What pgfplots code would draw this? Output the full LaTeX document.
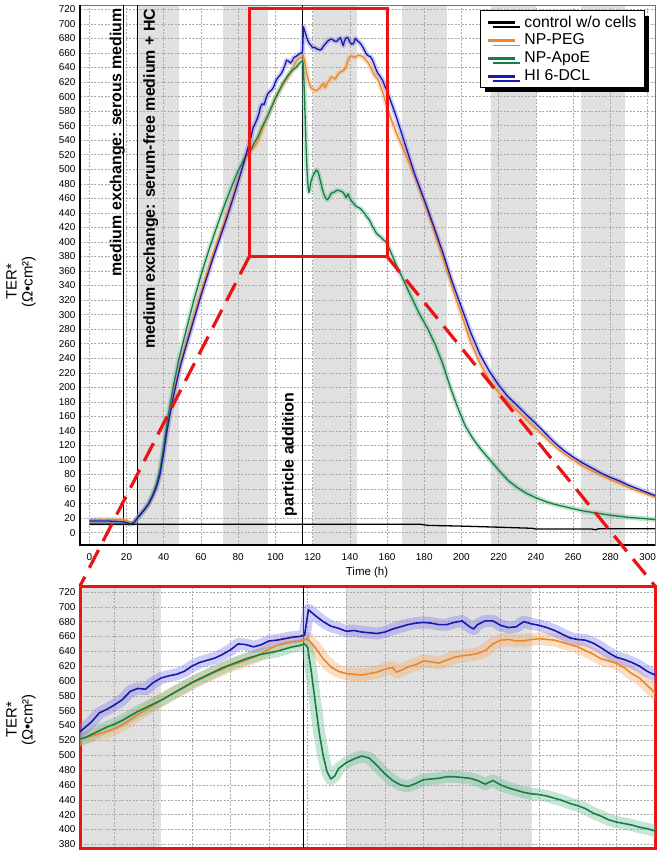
\documentclass[border=0pt]{standalone}
\usepackage{fontspec}
\setmainfont{Liberation Sans}
\usepackage{pgfplots}
\usepackage{pgfplotstable}
\pgfplotsset{compat=1.18}
\usetikzlibrary{shadows}

\definecolor{cblue}{RGB}{25,25,170}
\definecolor{corange}{RGB}{235,135,45}
\definecolor{cgreen}{RGB}{25,125,70}
\definecolor{lblue}{RGB}{130,130,235}
\definecolor{lorange}{RGB}{245,175,110}
\definecolor{lgreen}{RGB}{110,190,150}
\definecolor{band}{RGB}{224,224,224}
\definecolor{gridc}{RGB}{170,170,170}
\definecolor{cred}{RGB}{235,20,20}

\pgfplotstableread{
t v
0 11.5
26 11.5
60 11.5
100 11.5
150 11.5
178 11.5
182 10
200 9
220 7.5
238 6
240 5
270 5
272 4
274 5.5
304 5.5
}\ctrl

\pgfplotstableread{
t v
0 16
5 16
10 16
15 15.5
18 15
20 14
22 12
24 14
26 21
28 27
30 33
32 40
34 50
36 62
38 80
40 110
41.5 136
43 158
45 185
47 208
49 230
51 248
54 274
57 300
60 326
63 350
66 374
70 404
74 434
78 466
82 500
84 518
85.5 532
86 536
87 545
88 557
89 562
90 568
91 575
92 586
93 590
94 589
95 598
96 604
97 607
98 609
99 613
100 620
101 625
102 628
103 631
104 636
105 642
106 650
107 649
108 646
109 649
110 654
111 655
112 657
113 659
114 660
114.6 662
115.1 696
116 688
117 680
118 674
119 671
120 667
121 668
122 666
123 665
124 664
125 666
126 670
127 673
128 676
129 678
130 679
131 678
132 676
133 676
134 679
135 681
136 673
136.5 670
137 676
138 681
139 681
140 675
141 672
142 673
143 680
144 677
145 675
146 672
147 668
148 663
149 658
150 656
151 655
152 651
153 645
154 638
155 632
156 629
157 625
158 620
159 613
160 608
165 572
170 532
175 492
180 458
185 422
190 385
195 345
200 310
205 275
210 245
215 222
220 203
225 187
230 175
235 162
240 150
245 137
250 124
255 113
260 104
265 96
270 89
275 82
280 76
285 71
290 65
295 60
300 55
304 51
}\hi

\pgfplotstableread{
t v
0 18
5 18
10 18
15 18
18 17.5
20 17
22 14
24 14
26 20
28 26
30 32
32 40
34 50
36 63
38 82
40 113
41.5 138
43 161
45 188
47 211
49 233
51 252
54 279
57 305
60 331
63 356
66 380
70 409
74 439
78 469
82 500
84 514
85.5 521
86 523
87 526
88 529
89 532
90 536
91 541
92 548
93 555
94 561
95 568
96 574
97 580
98 586
99 591
100 597
101 602
102 607
103 612
104 616
105 621
106 624
107 628
108 632
109 637
110 643
111 648
112 651
113 653
114 654
115 657
116 645
117 630
118 619
119 613
120 610
121 609
122 608
123 610
124 612
125 616
126 618
126.5 612
127 614
128 619
129 622
130 627
131 626
132 624
133 628
134 632
135 634
136 635
137 637
138 641
139 650
140 655
141 656
142 654
143 654
144 656
145 657
146 656
147 655
148 652
149 649
150 646
151 641
152 636
153 630
154 627
155 624
156 618
157 610
158 604
159 594
160 584
165 550
170 520
175 490
180 455
185 418
190 378
195 338
200 300
205 262
210 233
215 210
220 193
225 180
230 168
235 155
240 143
245 131
250 119
255 109
260 100
265 92
270 85
275 79
280 73
285 68
290 62
295 57
300 53
304 49
}\peg

\pgfplotstableread{
t v
0 13
5 13
10 13
15 13
20 12.5
22 12
24 13
26 20
28 26
30 33
32 41
34 52
36 66
38 86
40 120
42 155
44 185
46 212
48 237
50 258
53 288
56 318
60 354
64 387
68 417
72 446
76 473
80 498
84 518
85.5 522
86 523
87 528
88 533
89 538
90 542
91 547
92 553
93 559
94 564
95 569
96 574
97 580
98 586
99 592
100 598
101 603
102 608
103 613
104 618
105 622
106 626
107 630
108 633
109 636
110 638
111 640
112 643
113 646
114 648
114.6 650
115 645
115.5 610
116 570
116.5 530
117 500
117.5 478
118 468
118.5 472
119 482
120 490
121 495
122 499
123 496
124 486
125 475
126 466
127 460
128 458
129 462
130 467
131 468
132 469
133 471
134 471
135 470
136 469
137 466
138 461
139 466
140 460
141 456
142 453
143 450
144 448
145 447
146 445
147 442
148 439
149 435
150 432
151 428
152 422
153 418
154 413
155 410
156 408
157 406
158 403
159 401
160 398
163 380
165 368
168 352
172 330
177 303
182 280
186 258
190 232
194 200
198 172
202 147
206 130
210 116
215 101
220 86
225 72
230 62
235 54
240 48
245 43
250 39
255 36
260 33
265 30
270 28
275 26
280 24
290 21
300 19
304 18
}\apoe

\begin{document}
\begin{tikzpicture}
\pgfplotsset{
  common/.style={
    scale only axis, set layers,
    grid=major,
    grid style={gridc, line width=0.5bp, dash pattern=on 2bp off 1.5bp},
    major tick length=0,
    tick label style={font=\fontsize{10}{11}\selectfont},
    /pgf/number format/assume math mode=true,
    yticklabel style={xshift=-1bp},
    xticklabel style={yshift=-5bp},
  },
}
% ---------------- top panel ----------------
\begin{axis}[common, name=top, at={(80bp,-5bp)}, anchor=north west,
  width=575bp, height=540bp,
  xmin=-5, xmax=304, ymin=-17, ymax=726,
  xtick={0,20,...,300}, ytick={0,20,...,720},
  axis line style={black!55, line width=0.6bp},
  legend style={at={(rel axis cs:0.9826,0.9907)}, anchor=north east,
    draw=black, line width=1.2bp, fill=white,
    font=\fontsize{15.8}{17}\selectfont,
    inner xsep=6bp, inner ysep=3bp, row sep=1.5bp,
    drop shadow={shadow xshift=5bp, shadow yshift=-5bp, opacity=1, fill=black},
    /tikz/column 1/.style={column sep=6bp}},
  legend cell align=left,
  legend image code/.code={\draw[#1, line width=3bp] (0bp,0bp) -- (27bp,0bp);},
]
\begin{pgfonlayer}{axis background}
\fill[band] (26,-17) rectangle (48,726);
\fill[band] (72,-17) rectangle (96,726);
\fill[band] (120,-17) rectangle (144,726);
\fill[band] (168,-17) rectangle (192,726);
\fill[band] (216,-17) rectangle (240,726);
\fill[band] (264,-17) rectangle (288,726);
\end{pgfonlayer}
\draw[black, line width=1.2bp] (18.5,-17) -- (18.5,726);
\draw[black, line width=1.2bp] (26,-17) -- (26,726);
\draw[black, line width=1.2bp] (114.5,-17) -- (114.5,726);
\addplot[forget plot, no markers, lorange, opacity=0.4, line width=5bp, line join=round] table[x=t,y=v] {\peg};
\addplot[forget plot, no markers, lgreen, opacity=0.4, line width=5bp, line join=round] table[x=t,y=v] {\apoe};
\addplot[forget plot, no markers, lblue, opacity=0.4, line width=5bp, line join=round] table[x=t,y=v] {\hi};
\addplot[no markers, black, line width=1.3bp] table[x=t,y=v] {\ctrl};
\addlegendentry{control w/o cells}
\addplot[no markers, corange, line width=1.3bp, line join=round] table[x=t,y=v] {\peg};
\addlegendentry{NP-PEG}
\addplot[no markers, cgreen, line width=1.3bp, line join=round] table[x=t,y=v] {\apoe};
\addlegendentry{NP-ApoE}
\addplot[no markers, cblue, line width=1.3bp, line join=round] table[x=t,y=v] {\hi};
\addlegendentry{HI 6-DCL}
\node[rotate=90, anchor=base east, font=\bfseries\fontsize{16}{18}\selectfont, inner sep=0pt] at (17.3,722) {medium exchange: serous medium};
\node[rotate=90, anchor=base east, font=\bfseries\fontsize{16}{18}\selectfont, inner sep=0pt] at (35.2,721) {medium exchange: serum-free medium + HC};
\node[rotate=90, anchor=base west, font=\bfseries\fontsize{16}{18}\selectfont, inner sep=0pt] at (109.8,22.5) {particle addition};
\draw[cred, line width=3bp] (86,380) rectangle (160,721.5);
\coordinate (bl) at (86,380);
\coordinate (br) at (160,380);
\end{axis}
\draw[black, line width=2bp] (top.north west) -- (top.south west) -- (top.south east);
\node[font=\fontsize{11.5}{13}\selectfont] at (367bp,-573bp) {Time (h)};
\node[rotate=90, align=center, font=\fontsize{15}{16}\selectfont] at (21bp,-282bp) {TER*\\(Ω•cm²)};

% ---------------- bottom panel ----------------
\begin{axis}[common, name=bot, at={(80bp,-586bp)}, anchor=north west,
  width=575bp, height=262bp,
  xmin=85.5, xmax=160, ymin=375, ymax=728,
  xtick={90,95,...,160}, xticklabels={},
  ytick={380,400,...,720},
  axis line style={cred, line width=3bp},
]
\begin{pgfonlayer}{axis background}
\fill[band] (85.5,375) rectangle (96,728);
\fill[band] (120,375) rectangle (144,728);
\end{pgfonlayer}
\draw[black, line width=1.1bp] (114.5,375) -- (114.5,728);
\addplot[no markers, lorange, opacity=0.4, line width=13bp, line join=round] table[x=t,y=v] {\peg};
\addplot[no markers, lgreen, opacity=0.4, line width=12bp, line join=round] table[x=t,y=v] {\apoe};
\addplot[no markers, lblue, opacity=0.4, line width=12bp, line join=round] table[x=t,y=v] {\hi};
\addplot[no markers, corange, line width=1.6bp, line join=round] table[x=t,y=v] {\peg};
\addplot[no markers, cgreen, line width=1.6bp, line join=round] table[x=t,y=v] {\apoe};
\addplot[no markers, cblue, line width=1.6bp, line join=round] table[x=t,y=v] {\hi};
\end{axis}
\node[rotate=90, align=center, font=\fontsize{15}{16}\selectfont] at (21bp,-720bp) {TER*\\(Ω•cm²)};

\draw[cred, line width=3.2bp, dash pattern=on 20bp off 10bp] (bl) -- (bot.north west);
\draw[cred, line width=3.2bp, dash pattern=on 20bp off 10bp] (br) -- (bot.north east);

\pgfresetboundingbox
\path[use as bounding box] (0,0) rectangle (661bp,-854bp);
\end{tikzpicture}
\end{document}
